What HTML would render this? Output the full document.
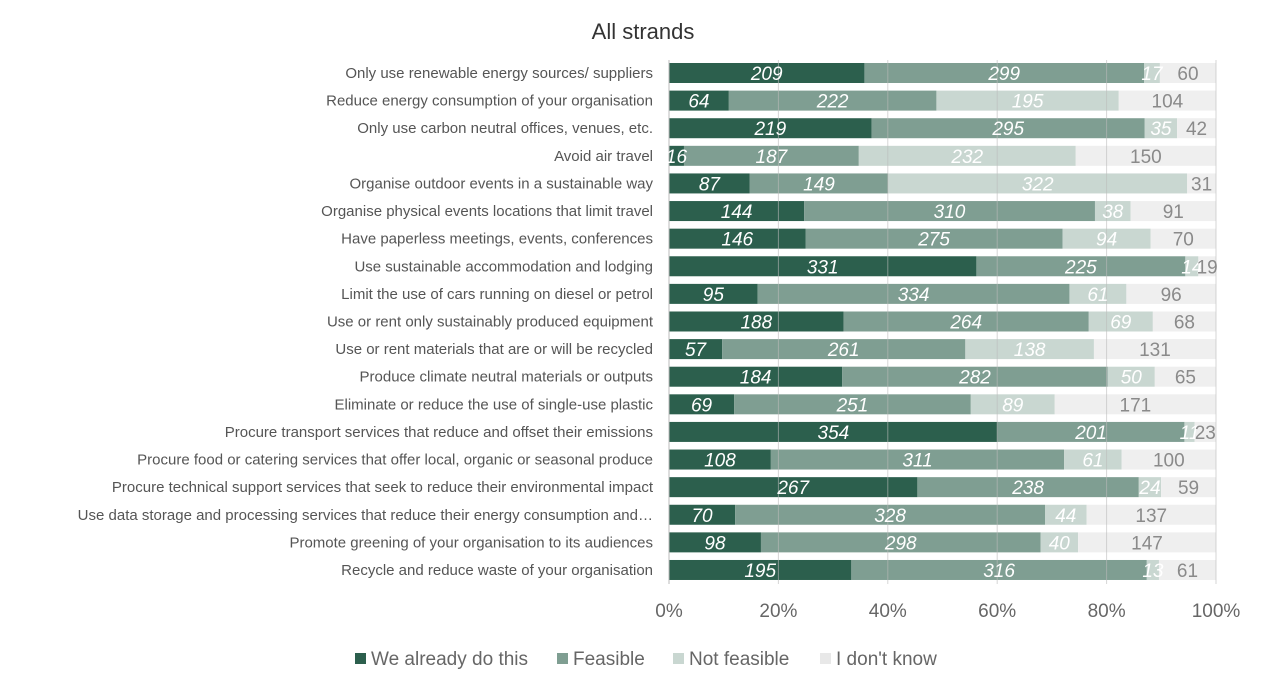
<!DOCTYPE html>
<html><head><meta charset="utf-8"><style>
body{margin:0;background:#fff;font-family:"Liberation Sans",sans-serif;}
svg text{font-family:"Liberation Sans",sans-serif;}
</style></head><body>
<svg id="chart" width="1287" height="690">
<text x="643" y="39" text-anchor="middle" font-size="22" fill="#333">All strands</text>
<g id="bars"></g><g id="grid"></g><g id="labels"></g>
</svg>
<script>
const categories=["Only use renewable energy sources/ suppliers","Reduce energy consumption of your organisation","Only use carbon neutral offices, venues, etc.","Avoid air travel","Organise outdoor events in a sustainable way","Organise physical events locations that limit travel","Have paperless meetings, events, conferences","Use sustainable accommodation and lodging","Limit the use of cars running on diesel or petrol","Use or rent only sustainably produced equipment","Use or rent materials that are or will be recycled","Produce climate neutral materials or outputs","Eliminate or reduce the use of single-use plastic","Procure transport services that reduce and offset their emissions","Procure food or catering services that offer local, organic or seasonal produce","Procure technical support services that seek to reduce their environmental impact","Use data storage and processing services that reduce their energy consumption and…","Promote greening of your organisation to its audiences","Recycle and reduce waste of your organisation"];
const already=[209,64,219,16,87,144,146,331,95,188,57,184,69,354,108,267,70,98,195];
const feasible=[299,222,295,187,149,310,275,225,334,264,261,282,251,201,311,238,328,298,316];
const notFeasible=[17,195,35,232,322,38,94,14,61,69,138,50,89,11,61,24,44,40,13];
const dontKnow=[60,104,42,150,31,91,70,19,96,68,131,65,171,23,100,59,137,147,61];
const ticks=["0%","20%","40%","60%","80%","100%"];
const seriesNames=["We already do this","Feasible","Not feasible","I don't know"];
const colors=["#2c5f4d","#7f9e92","#c9d7d1","#efefef"];
const X0=669,X1=1216,Y0=73,STEP=27.61,BH=20;
const xs=p=>X0+(X1-X0)*p;
const ys=i=>Y0+i*STEP;
const NS="http://www.w3.org/2000/svg";
function mk(tag,attrs,parent){const e=document.createElementNS(NS,tag);for(const k in attrs)e.setAttribute(k,attrs[k]);parent.appendChild(e);return e;}
const bars=document.getElementById('bars'),grid=document.getElementById('grid'),labels=document.getElementById('labels');
const series=[already,feasible,notFeasible,dontKnow];
categories.forEach((c,i)=>{
  const t=mk('text',{x:653,y:ys(i)+5,'text-anchor':'end','font-size':15,fill:'#555'},labels);
  t.textContent=c;
  
  
  const tot=series.reduce((s,a)=>s+a[i],0);
  let cum=0;
  series.forEach((arr,k)=>{
    const v=arr[i];const xa=xs(cum/tot),xb=xs((cum+v)/tot);cum+=v;
    const r=mk('rect',{x:xa,y:ys(i)-BH/2,width:xb-xa,height:BH,fill:colors[k]},bars);
    
    
    const lt=mk('text',{x:(xa+xb)/2,y:ys(i)+7,'text-anchor':'middle','font-size':19,fill:k==3?'#8a8a8a':'#fff','font-style':k==3?'normal':'italic'},labels);
    lt.textContent=v;
    
    
  });
});
ticks.forEach((tk,j)=>{
  const x=xs(j/5);
  const l=mk('line',{x1:x,x2:x,y1:60,y2:584,stroke:'#bbb','stroke-width':1,opacity:j==0?1:0.6},grid);
  
  
  const t=mk('text',{x:x,y:617,'text-anchor':'middle','font-size':19,fill:'#666'},labels);
  t.textContent=tk;
  
  
});
const lx=[355,557,673,820];
seriesNames.forEach((n,k)=>{
  const r=mk('rect',{x:lx[k],y:653,width:11,height:11,fill:colors[k]==='#efefef'?'#e8e8e8':colors[k]},labels);
  
  
  const t=mk('text',{x:lx[k]+16,y:665,'font-size':19,fill:'#666'},labels);
  t.textContent=n;
  
  
});
</script>
</body></html>
